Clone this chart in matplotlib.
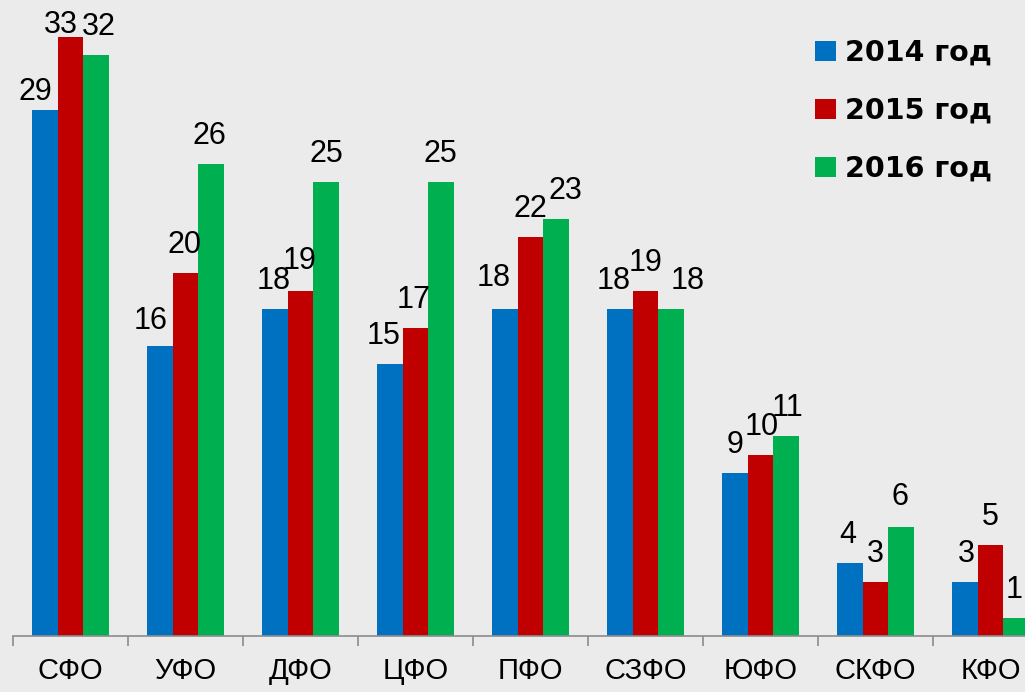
import matplotlib
matplotlib.use("Agg")
import matplotlib.pyplot as plt
import numpy as np
from matplotlib.patches import Patch

plt.rcParams['font.family'] = ['Liberation Sans', 'DejaVu Sans']

categories = ["СФО", "УФО", "ДФО", "ЦФО", "ПФО", "СЗФО", "ЮФО", "СКФО", "КФО"]
series_names = ["2014 год", "2015 год", "2016 год"]
values_2014 = [29, 16, 18, 15, 18, 18, 9, 4, 3]
values_2015 = [33, 20, 19, 17, 22, 19, 10, 3, 5]
values_2016 = [32, 26, 25, 25, 23, 18, 11, 6, 1]
series = [values_2014, values_2015, values_2016]
colors = ["#0070C0", "#C00000", "#00B050"]

# manual label nudges (px), mimicking the hand-placed labels in the original
nudges = [
    [(-10, -10), (-9, -3), (-1, 0), (-6.5, 0), (-11, 3), (-6, 0), (0, 0), (-2.5, 0), (1, 0)],
    [(-9.5, -16), (-1, 0), (-1, 2), (-1.5, 0), (0, 0), (0, 0), (1, 0), (0, 0), (0, 0)],
    [(3, 0), (-2, 0), (0, 0), (-1, 0), (9.5, 0), (16.5, 0), (1, 0), (-1, 2), (-2, 0)],
]

W, H = 1025, 692
bg = "#EBEBEB"
fig = plt.figure(figsize=(W / 100, H / 100), dpi=100, facecolor=bg)
ax = fig.add_axes([13 / W, (H - 636) / H, 1035 / W, 635 / H])
ax.set_facecolor(bg)

x = np.arange(len(categories))
bw = 0.222
px2pt = 0.72
for i, (vals, col) in enumerate(zip(series, colors)):
    pos = x + (i - 1) * bw
    ax.bar(pos, vals, width=bw, color=col, edgecolor='none', label=series_names[i], zorder=2)
    for j, (p, v) in enumerate(zip(pos, vals)):
        dx, dy = nudges[i][j]
        ax.annotate(str(v), (p, v), xytext=(dx * px2pt, (20 + dy) * px2pt),
                    textcoords='offset points', ha='center', va='baseline',
                    fontsize=22, color='black', annotation_clip=False)

ax.set_xlim(-0.5, len(categories) - 0.5)
ax.set_ylim(0, 35)
for s in ['left', 'right', 'top']:
    ax.spines[s].set_visible(False)
ax.spines['bottom'].set_color('#8C8C8C')
ax.spines['bottom'].set_linewidth(1.2)
ax.set_yticks([])
ax.set_xticks(x)
ax.set_xticklabels(categories, fontsize=21)
ax.tick_params(axis='x', which='major', length=0, pad=15)
ax.set_xticks(np.arange(-0.5, len(categories), 1.0), minor=True)
ax.tick_params(axis='x', which='minor', length=7.2, width=1.2, color='#8C8C8C', direction='out')

handles = [Patch(facecolor=c, edgecolor='none') for c in colors]
leg = fig.legend(handles, series_names, loc='upper left',
                 bbox_to_anchor=(815 / W, 1 - 39 / H), frameon=False,
                 prop={'family': 'DejaVu Sans', 'size': 20.5, 'weight': 'bold'},
                 handlelength=0.74, handleheight=0.74, handletextpad=0.3,
                 labelspacing=1.05, borderpad=0, borderaxespad=0)

fig.savefig("out.png", dpi=100, facecolor=bg)
